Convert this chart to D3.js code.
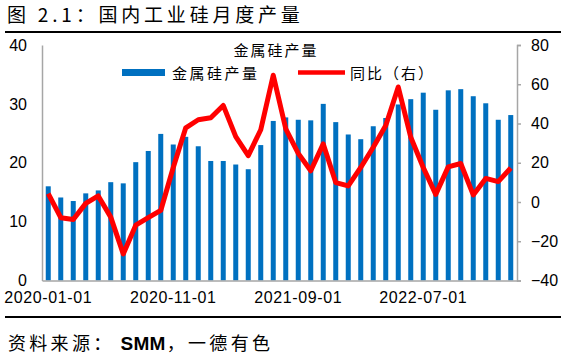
<!DOCTYPE html>
<html>
<head>
<meta charset="utf-8">
<script src="https://cdn.jsdelivr.net/npm/d3@7"></script>
<style>
  body { margin: 0; background: #fff; }
  svg { display: block; }
  .cjk { font-family: "Noto Sans CJK SC", sans-serif; }
  .num { font-family: "Liberation Sans", Arial, sans-serif; }
  .narrow { font-family: "Liberation Sans Narrow", "Arial Narrow", "Liberation Sans", sans-serif; }
</style>
</head>
<body>
<svg id="container" width="567" height="361"></svg>
<script>
// months 2020-01 .. 2023-02
const months = [
  "2020-01-01","2020-02-01","2020-03-01","2020-04-01","2020-05-01","2020-06-01",
  "2020-07-01","2020-08-01","2020-09-01","2020-10-01","2020-11-01","2020-12-01",
  "2021-01-01","2021-02-01","2021-03-01","2021-04-01","2021-05-01","2021-06-01",
  "2021-07-01","2021-08-01","2021-09-01","2021-10-01","2021-11-01","2021-12-01",
  "2022-01-01","2022-02-01","2022-03-01","2022-04-01","2022-05-01","2022-06-01",
  "2022-07-01","2022-08-01","2022-09-01","2022-10-01","2022-11-01","2022-12-01",
  "2023-01-01","2023-02-01"
];
// 金属硅产量 (万吨)
const output = [
  16.0, 14.1, 13.5, 14.8, 15.3, 16.7, 16.5, 20.1, 22.0, 24.9, 23.1, 24.4,
  22.8, 20.3, 20.3, 19.7, 18.9, 23.0, 27.1, 27.7, 27.3, 27.2, 30.0, 26.9,
  24.8, 24.0, 26.2, 27.6, 29.9, 30.8, 31.9, 29.0, 32.3, 32.5, 31.3, 30.1,
  27.3, 28.1
];
// 同比 (%)
const yoy = [
  4.3, -8.0, -8.9, -0.7, 3.1, -7.7, -26.5, -11.8, -8.0, -4.3, 17.6, 37.8,
  41.9, 42.9, 49.2, 33.3, 23.6, 36.8, 64.6, 37.3, 24.8, 15.9, 29.6, 9.9,
  8.2, 17.6, 27.9, 39.0, 58.6, 33.0, 17.6, 3.9, 17.9, 19.6, 3.6, 12.0,
  10.4, 17.3
];
const leftTicks = [0, 10, 20, 30, 40];
const rightTicks = [-40, -20, 0, 20, 40, 60, 80];
const labelMonths = ["2020-01-01", "2020-11-01", "2021-09-01", "2022-07-01"];

const svg = d3.select("#container");
const plotLeft = 42, plotRight = 517, plotTop = 45, plotBottom = 280.5;

const x = d3.scaleBand().domain(months).range([plotLeft, plotRight]);
const yL = d3.scaleLinear().domain([0, 40]).range([plotBottom, plotTop]);
const yR = d3.scaleLinear().domain([-40, 80]).range([plotBottom, plotTop]);
const axisColor = "#a6a6a6";

// title
svg.append("text")
  .attr("class", "cjk")
  .attr("x", 7).attr("y", 22)
  .attr("font-size", 19).attr("letter-spacing", 3.8)
  .text("图 2.1：国内工业硅月度产量");
svg.append("line")
  .attr("x1", 5).attr("x2", 561).attr("y1", 32).attr("y2", 32)
  .attr("stroke", "#000").attr("stroke-width", 2);
svg.append("line")
  .attr("x1", 5).attr("x2", 561).attr("y1", 317).attr("y2", 317)
  .attr("stroke", "#000").attr("stroke-width", 2);

// source
const src = svg.append("text")
  .attr("class", "cjk")
  .attr("x", 8).attr("y", 350)
  .attr("font-size", 18).attr("letter-spacing", 3.3);
src.append("tspan").text("资料来源：");
src.append("tspan")
  .attr("class", "narrow")
  .attr("dx", 6)
  .attr("font-size", 19).attr("font-weight", "bold").attr("letter-spacing", 0.3)
  .text("SMM");
src.append("tspan").attr("dx", 1).text("，一德有色");

// bars
svg.selectAll("rect.bar")
  .data(output)
  .enter()
  .append("rect")
  .attr("class", "bar")
  .attr("fill", "#0070c0")
  .attr("x", (d, i) => x(months[i]) + x.bandwidth() / 2 - 2.5)
  .attr("width", 5)
  .attr("y", (d) => yL(d))
  .attr("height", (d) => yL(0) - yL(d));

// left axis
const gL = svg.append("g")
  .attr("transform", `translate(${plotLeft},0)`)
  .call(d3.axisLeft(yL).tickValues(leftTicks).tickSize(0).tickPadding(15));
// right axis
const gR = svg.append("g")
  .attr("transform", `translate(${plotRight},0)`)
  .call(d3.axisRight(yR).tickValues(rightTicks).tickSize(4).tickPadding(10));
// bottom axis
const gB = svg.append("g")
  .attr("transform", `translate(0,${plotBottom})`)
  .call(d3.axisBottom(x).tickValues(labelMonths).tickSize(0).tickPadding(11));

[gL, gR, gB].forEach((g) => {
  g.select(".domain").attr("stroke", axisColor).attr("stroke-width", 1.5);
  g.selectAll(".tick line").attr("stroke", axisColor).attr("stroke-width", 1.5);
  g.selectAll("text")
    .attr("class", "num")
    .attr("fill", "#000")
    .attr("font-size", 16);
});
gB.selectAll("text").attr("letter-spacing", 0.6);

// line
const line = d3.line()
  .x((d, i) => x(months[i]) + x.bandwidth() / 2)
  .y((d) => yR(d));
svg.append("path")
  .datum(yoy)
  .attr("fill", "none")
  .attr("stroke", "#ff0000")
  .attr("stroke-width", 5)
  .attr("stroke-linejoin", "round")
  .attr("d", line);

// legend
svg.append("text")
  .attr("class", "cjk")
  .attr("x", 276).attr("y", 56)
  .attr("text-anchor", "middle")
  .attr("font-size", 15).attr("letter-spacing", 2)
  .text("金属硅产量");
svg.append("rect")
  .attr("x", 122).attr("y", 69).attr("width", 43).attr("height", 7)
  .attr("fill", "#0070c0");
svg.append("text")
  .attr("class", "cjk")
  .attr("x", 172).attr("y", 79)
  .attr("font-size", 15).attr("letter-spacing", 2.5)
  .text("金属硅产量");
svg.append("line")
  .attr("x1", 298).attr("x2", 345).attr("y1", 72.5).attr("y2", 72.5)
  .attr("stroke", "#ff0000").attr("stroke-width", 4.5);
svg.append("text")
  .attr("class", "cjk")
  .attr("x", 350).attr("y", 79)
  .attr("font-size", 15).attr("letter-spacing", 2)
  .text("同比（右）");
</script>
</body>
</html>
